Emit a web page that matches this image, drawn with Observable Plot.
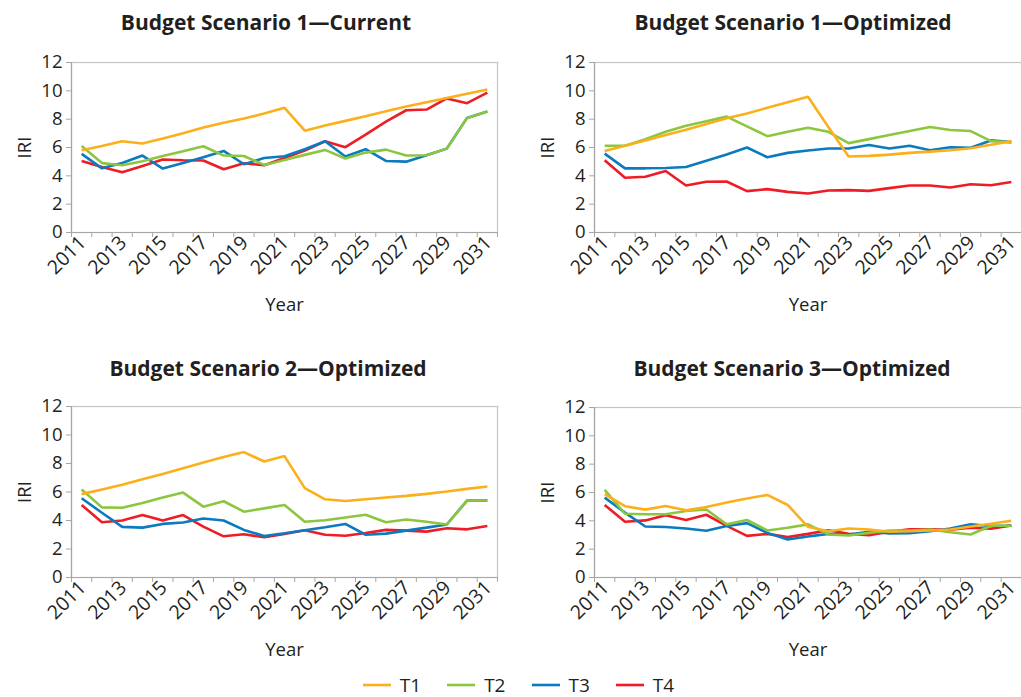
<!DOCTYPE html>
<html>
<head>
<meta charset="utf-8">
<script src="https://cdn.jsdelivr.net/npm/d3@7"></script>
<script src="https://cdn.jsdelivr.net/npm/@observablehq/plot@0.6"></script>
<style>
  html, body { margin: 0; padding: 0; background: #fff; overflow: hidden; }
  #root { position: relative; width: 1021px; height: 697px; font-family: "Open Sans", Lato, sans-serif; color: #231f20; }
  .panel { position: absolute; }
  .title { position: absolute; font-weight: 700; font-size: 21px; text-align: center; white-space: nowrap; line-height: 28px; }
  #legend { position: absolute; left: 8px; width: 1021px; top: 672px; display: flex; justify-content: center; gap: 26px; font-size: 19px; line-height: 26px; }
  #legend .item { display: flex; align-items: center; gap: 9px; }
</style>
</head>
<body>
<div id="root"></div>
<script>
// ---- data ----
const years = [2011,2012,2013,2014,2015,2016,2017,2018,2019,2020,2021,2022,2023,2024,2025,2026,2027,2028,2029,2030,2031];
const yTicks = [0,2,4,6,8,10,12];
const xLabelYears = [2011,2013,2015,2017,2019,2021,2023,2025,2027,2029,2031];
const xBoundaries = [2010.5,2011.5,2012.5,2013.5,2014.5,2015.5,2016.5,2017.5,2018.5,2019.5,2020.5,2021.5,2022.5,2023.5,2024.5,2025.5,2026.5,2027.5,2028.5,2029.5,2030.5,2031.5];
const seriesNames = ["T1","T2","T3","T4"];
const seriesColors = ["#FBB01B","#8CC63F","#0A7BBF","#EE1C25"];

// Budget Scenario 1 — Current
const cur_T1 = [5.8,6.1,6.44,6.28,6.63,7.0,7.41,7.74,8.04,8.4,8.8,7.19,7.55,7.88,8.2,8.56,8.9,9.2,9.5,9.8,10.1];
const cur_T2 = [6.1,4.9,4.75,5.03,5.4,5.73,6.09,5.43,5.4,4.77,5.12,5.48,5.83,5.22,5.64,5.85,5.43,5.45,5.92,8.09,8.54];
const cur_T3 = [5.55,4.53,4.9,5.43,4.51,4.91,5.31,5.76,4.82,5.26,5.38,5.88,6.44,5.36,5.88,5.05,5.0,5.45,5.92,8.09,8.54];
const cur_T4 = [5.05,4.63,4.25,4.7,5.15,5.1,5.08,4.46,4.89,4.75,5.26,5.78,6.44,6.02,6.91,7.83,8.63,8.68,9.46,9.13,9.88];

// Budget Scenario 1 — Optimized
const opt1_T1 = [5.76,6.12,6.5,6.88,7.26,7.66,8.06,8.4,8.8,9.2,9.58,7.45,5.36,5.41,5.5,5.62,5.71,5.81,5.95,6.2,6.45];
const opt1_T2 = [6.12,6.12,6.59,7.11,7.54,7.85,8.18,7.49,6.8,7.11,7.4,7.11,6.31,6.59,6.88,7.16,7.45,7.23,7.16,6.45,6.36];
const opt1_T3 = [5.57,4.53,4.53,4.55,4.62,5.07,5.5,6.0,5.31,5.62,5.79,5.93,5.93,6.17,5.93,6.12,5.81,6.02,5.98,6.5,6.38];
const opt1_T4 = [5.1,3.87,3.94,4.34,3.32,3.58,3.6,2.92,3.06,2.87,2.75,2.96,2.99,2.94,3.13,3.32,3.32,3.18,3.41,3.34,3.56];

// Budget Scenario 2 — Optimized
const opt2_T1 = [5.85,6.18,6.51,6.89,7.27,7.67,8.07,8.45,8.8,8.14,8.52,6.27,5.49,5.37,5.49,5.61,5.73,5.87,6.04,6.22,6.39];
const opt2_T2 = [6.18,4.92,4.9,5.23,5.61,5.96,4.97,5.35,4.62,4.85,5.09,3.91,4.02,4.21,4.4,3.88,4.07,3.91,3.72,5.4,5.4];
const opt2_T3 = [5.56,4.54,3.55,3.5,3.76,3.86,4.14,4.0,3.34,2.91,3.1,3.31,3.53,3.76,3.0,3.08,3.29,3.5,3.72,5.4,5.4];
const opt2_T4 = [5.09,3.88,4.0,4.38,4.0,4.38,3.57,2.89,3.03,2.82,3.05,3.31,3.0,2.93,3.12,3.34,3.29,3.22,3.46,3.38,3.62];

// Budget Scenario 3 — Optimized
const opt3_T1 = [5.88,5.03,4.79,5.05,4.74,4.98,5.29,5.57,5.83,5.12,3.58,3.27,3.46,3.39,3.23,3.27,3.32,3.39,3.6,3.79,4.0];
const opt3_T2 = [6.19,4.5,4.46,4.46,4.7,4.8,3.75,4.06,3.32,3.51,3.75,3.04,2.96,3.15,3.32,3.32,3.39,3.2,3.04,3.65,3.65];
const opt3_T3 = [5.64,4.58,3.6,3.56,3.46,3.3,3.63,3.84,3.15,2.68,2.89,3.08,3.04,3.23,3.11,3.13,3.27,3.46,3.75,3.63,3.65];
const opt3_T4 = [5.12,3.94,4.03,4.39,4.06,4.43,3.65,2.94,3.08,2.85,3.08,3.34,3.08,2.99,3.23,3.41,3.41,3.37,3.51,3.44,3.68];

const panels = [
  {title: "Budget Scenario 1\u2014Current",   series: [cur_T1, cur_T2, cur_T3, cur_T4],     left: 0,   top: 40,  width: 510, marginLeft: 71, marginRight: 13, marginTop: 22, titleCenter: 266, titleTop: 8},
  {title: "Budget Scenario 1\u2014Optimized", series: [opt1_T1, opt1_T2, opt1_T3, opt1_T4], left: 520, top: 40,  width: 501, marginLeft: 74, marginRight: 0,  marginTop: 22, titleCenter: 793, titleTop: 8},
  {title: "Budget Scenario 2\u2014Optimized", series: [opt2_T1, opt2_T2, opt2_T3, opt2_T4], left: 0,   top: 385, width: 510, marginLeft: 71, marginRight: 13, marginTop: 21, titleCenter: 268, titleTop: 354},
  {title: "Budget Scenario 3\u2014Optimized", series: [opt3_T1, opt3_T2, opt3_T3, opt3_T4], left: 520, top: 385, width: 501, marginLeft: 74, marginRight: 0,  marginTop: 22, titleCenter: 792, titleTop: 354}
];

const root = document.getElementById("root");

for (const p of panels) {
  const rows = [];
  // draw order: T4 at bottom, T1 on top
  for (let s = 3; s >= 0; s--) {
    p.series[s].forEach((v, i) => rows.push({year: years[i], value: v, series: seriesNames[s]}));
  }
  const chart = Plot.plot({
    width: p.width,
    height: 290,
    marginLeft: p.marginLeft,
    marginRight: p.marginRight,
    marginTop: p.marginTop,
    marginBottom: 98,
    style: {fontFamily: "'Open Sans', Lato, sans-serif", fontSize: "18px", color: "#231f20", background: "transparent"},
    x: {domain: [2010.5, 2031.5]},
    y: {domain: [0, 12]},
    color: {domain: seriesNames, range: seriesColors},
    marks: [
      Plot.frame({stroke: "#c4c4c4", strokeWidth: 1.2}),
      Plot.axisY({ticks: yTicks, tickSize: 5, tickPadding: 4, stroke: "#a6a6a6", fill: "#231f20",
                  label: "IRI", labelAnchor: "center", labelArrow: "none", labelOffset: 54, fontSize: 18.5}),
      Plot.axisX({ticks: xLabelYears, tickSize: 0, tickPadding: 7, tickRotate: -45, tickFormat: d => String(d), fill: "#231f20",
                  dx: 1, fontSize: 19.5, label: null}),
      Plot.axisX({ticks: [], tickSize: 0, fill: "#231f20",
                  label: "Year", labelAnchor: "center", labelArrow: "none", labelOffset: 78, fontSize: 18.5}),
      Plot.axisX({ticks: xBoundaries, tickSize: 5, tickFormat: () => "", stroke: "#a6a6a6", label: null}),
      Plot.ruleX([2010.5], {stroke: "#a6a6a6", strokeWidth: 1.2}),
      Plot.ruleY([0], {stroke: "#a6a6a6", strokeWidth: 1.2}),
      Plot.lineY(rows, {x: "year", y: "value", z: "series", stroke: "series", strokeWidth: 2.6, strokeLinejoin: "miter", strokeLinecap: "butt"})
    ]
  });
  const div = document.createElement("div");
  div.className = "panel";
  div.style.left = p.left + "px";
  div.style.top = p.top + "px";
  div.appendChild(chart);
  root.appendChild(div);

  const t = document.createElement("div");
  t.className = "title";
  t.textContent = p.title;
  t.style.left = (p.titleCenter - 200) + "px";
  t.style.width = "400px";
  t.style.top = p.titleTop + "px";
  root.appendChild(t);
}

// legend
const legend = document.createElement("div");
legend.id = "legend";
seriesNames.forEach((name, i) => {
  const item = document.createElement("div");
  item.className = "item";
  item.innerHTML = `<svg width="28" height="4"><line x1="0" x2="28" y1="2" y2="2" stroke="${seriesColors[i]}" stroke-width="2.6"/></svg><span>${name}</span>`;
  legend.appendChild(item);
});
root.appendChild(legend);
</script>
</body>
</html>
